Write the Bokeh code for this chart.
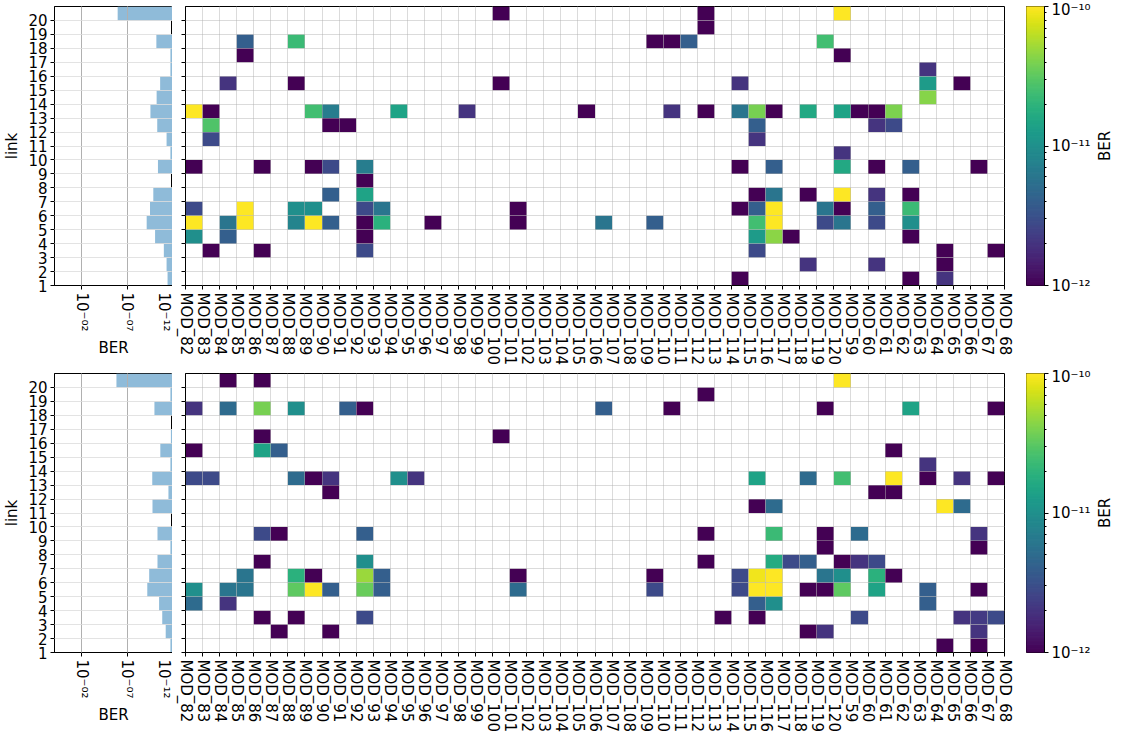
import math
from bokeh.plotting import figure
from bokeh.layouts import row, column
from bokeh.models import (Range1d, FixedTicker, LogColorMapper, ColumnDataSource,
                          CustomJSTickFormatter)
from bokeh.palettes import Viridis256
from bokeh.transform import transform
from bokeh.embed import file_html
from bokeh.resources import INLINE

# ---------------------------------------------------------------- data
MODULES = ["MOD_82", "MOD_83", "MOD_84", "MOD_85", "MOD_86", "MOD_87", "MOD_88",
           "MOD_89", "MOD_90", "MOD_91", "MOD_92", "MOD_93", "MOD_94", "MOD_95",
           "MOD_96", "MOD_97", "MOD_98", "MOD_99", "MOD_100", "MOD_101", "MOD_102",
           "MOD_103", "MOD_104", "MOD_105", "MOD_106", "MOD_107", "MOD_108",
           "MOD_109", "MOD_110", "MOD_111", "MOD_112", "MOD_113", "MOD_114",
           "MOD_115", "MOD_116", "MOD_117", "MOD_118", "MOD_119", "MOD_120",
           "MOD_59", "MOD_60", "MOD_61", "MOD_62", "MOD_63", "MOD_64", "MOD_65",
           "MOD_66", "MOD_67", "MOD_68"]
LINKS = [1, 2, 3, 4, 5, 6, 7, 8, 9, 10, 11, 12, 13, 14, 15, 16, 17, 18, 19, 20]

# top panel: cells (module, link, BER)
TOP_CELL_MOD = [
    "MOD_100", "MOD_112", "MOD_120",
    "MOD_112",
    "MOD_85", "MOD_88", "MOD_109", "MOD_110", "MOD_111", "MOD_119",
    "MOD_85", "MOD_120",
    "MOD_63",
    "MOD_84", "MOD_88", "MOD_100", "MOD_114", "MOD_63", "MOD_65",
    "MOD_63",
    "MOD_82", "MOD_83", "MOD_89", "MOD_90", "MOD_94", "MOD_98", "MOD_105", "MOD_110",
    "MOD_112", "MOD_114", "MOD_115", "MOD_116", "MOD_118", "MOD_120", "MOD_59",
    "MOD_60", "MOD_61",
    "MOD_83", "MOD_90", "MOD_91", "MOD_115", "MOD_60", "MOD_61",
    "MOD_83", "MOD_115",
    "MOD_120",
    "MOD_82", "MOD_86", "MOD_89", "MOD_90", "MOD_92", "MOD_114", "MOD_116", "MOD_120",
    "MOD_60", "MOD_62", "MOD_66",
    "MOD_92",
    "MOD_90", "MOD_92", "MOD_115", "MOD_116", "MOD_118", "MOD_120", "MOD_60", "MOD_62",
    "MOD_82", "MOD_85", "MOD_88", "MOD_89", "MOD_92", "MOD_93", "MOD_101", "MOD_114",
    "MOD_115", "MOD_116", "MOD_119", "MOD_120", "MOD_60", "MOD_62",
    "MOD_82", "MOD_84", "MOD_85", "MOD_88", "MOD_89", "MOD_90", "MOD_92", "MOD_93",
    "MOD_96", "MOD_101", "MOD_106", "MOD_109", "MOD_115", "MOD_116", "MOD_119",
    "MOD_120", "MOD_60", "MOD_62",
    "MOD_82", "MOD_84", "MOD_92", "MOD_115", "MOD_116", "MOD_117", "MOD_62",
    "MOD_83", "MOD_86", "MOD_92", "MOD_115", "MOD_64", "MOD_67",
    "MOD_118", "MOD_60", "MOD_64",
    "MOD_114", "MOD_62", "MOD_64",
]
TOP_CELL_LINK = ([20] * 3 + [19] * 1 + [18] * 6 + [17] * 2 + [16] * 1 + [15] * 6 +
                 [14] * 1 + [13] * 17 + [12] * 6 + [11] * 2 + [10] * 1 + [9] * 11 +
                 [8] * 1 + [7] * 8 + [6] * 14 + [5] * 18 + [4] * 7 + [3] * 6 +
                 [2] * 3 + [1] * 3)
TOP_CELL_BER = [
    1e-12, 1e-12, 1.1e-6,
    1e-12,
    4e-12, 2.3e-11, 1e-12, 1e-12, 4e-12, 2.5e-11,
    1e-12, 1e-12,
    2e-12,
    2e-12, 1e-12, 1e-12, 2e-12, 1.25e-11, 1e-12,
    4.3e-11,
    1e-10, 1e-12, 2.5e-11, 7e-12, 1.45e-11, 2e-12, 1e-12, 2e-12, 1e-12, 6e-12,
    3.9e-11, 1e-12, 1.6e-11, 1.45e-11, 1e-12, 1e-12, 4e-11,
    2.8e-11, 1e-12, 1e-12, 4e-12, 2e-12, 2.8e-12,
    2.8e-12, 2e-12,
    2e-12,
    1e-12, 1e-12, 1e-12, 2.8e-12, 7e-12, 1e-12, 4e-12, 1.6e-11, 1e-12, 4e-12, 1e-12,
    1e-12,
    4e-12, 1.45e-11, 1e-12, 6e-12, 1e-12, 1e-10, 2e-12, 1e-12,
    2.8e-12, 1e-10, 1e-11, 1e-11, 2.8e-12, 6e-12, 1e-12, 1e-12, 4e-12, 1e-10,
    6e-12, 1e-12, 4e-12, 2.3e-11,
    1e-10, 6e-12, 1e-10, 8e-12, 1e-10, 4e-12, 1e-12, 1.9e-11, 1e-12, 1e-12, 6e-12,
    4e-12, 2.5e-11, 1e-10, 2.8e-12, 6e-12, 2.8e-12, 1e-11,
    1e-11, 4e-12, 1e-12, 1.25e-11, 4.5e-11, 1e-12, 1e-12,
    1e-12, 1e-12, 2.8e-12, 2.8e-12, 1e-12, 1e-12,
    2e-12, 2e-12, 1e-12,
    1e-12, 1e-12, 2e-12,
]
# top panel: per-link BER (links 1..20)
TOP_LINK_BER = [3.5e-12, 4.5e-12, 9e-12, 8.3e-11, 7e-10, 3e-10, 1.3e-10, 1e-12, 4e-11,
                1.7e-12, 4.5e-12, 4.8e-11, 2.7e-10, 5.6e-11, 2.3e-11, 1.7e-12, 1.7e-12,
                6e-11, 1e-12, 1.1e-6]

# bottom panel
BOT_CELL_MOD = [
    "MOD_84", "MOD_86", "MOD_120",
    "MOD_112",
    "MOD_82", "MOD_84", "MOD_86", "MOD_88", "MOD_91", "MOD_92", "MOD_106", "MOD_110",
    "MOD_119", "MOD_62", "MOD_67",
    "MOD_86", "MOD_100",
    "MOD_82", "MOD_86", "MOD_87", "MOD_61",
    "MOD_63",
    "MOD_82", "MOD_83", "MOD_88", "MOD_89", "MOD_90", "MOD_94", "MOD_95", "MOD_115",
    "MOD_118", "MOD_120", "MOD_61", "MOD_63", "MOD_65", "MOD_67",
    "MOD_90", "MOD_60", "MOD_61",
    "MOD_115", "MOD_116", "MOD_64", "MOD_65",
    "MOD_86", "MOD_87", "MOD_92", "MOD_112", "MOD_116", "MOD_119", "MOD_59", "MOD_66",
    "MOD_119", "MOD_66",
    "MOD_86", "MOD_92", "MOD_112", "MOD_116", "MOD_117", "MOD_118", "MOD_120",
    "MOD_59", "MOD_60",
    "MOD_85", "MOD_88", "MOD_89", "MOD_92", "MOD_93", "MOD_101", "MOD_109", "MOD_114",
    "MOD_115", "MOD_116", "MOD_119", "MOD_120", "MOD_60", "MOD_61",
    "MOD_82", "MOD_84", "MOD_85", "MOD_88", "MOD_89", "MOD_90", "MOD_92", "MOD_93",
    "MOD_101", "MOD_109", "MOD_114", "MOD_115", "MOD_116", "MOD_118", "MOD_119",
    "MOD_120", "MOD_60", "MOD_63", "MOD_66",
    "MOD_82", "MOD_84", "MOD_115", "MOD_116", "MOD_63",
    "MOD_86", "MOD_88", "MOD_92", "MOD_113", "MOD_115", "MOD_59", "MOD_65", "MOD_66",
    "MOD_67",
    "MOD_87", "MOD_90", "MOD_118", "MOD_119", "MOD_66",
    "MOD_64", "MOD_66",
]
BOT_CELL_LINK = ([20] * 3 + [19] * 1 + [18] * 11 + [16] * 2 + [15] * 4 + [14] * 1 +
                 [13] * 14 + [12] * 3 + [11] * 4 + [9] * 8 + [8] * 2 + [7] * 9 +
                 [6] * 14 + [5] * 19 + [4] * 5 + [3] * 9 + [2] * 5 + [1] * 2)
BOT_CELL_BER = [
    1e-12, 1e-12, 1.5e-6,
    1e-12,
    2e-12, 5e-12, 3.9e-11, 1e-11, 4e-12, 1e-12, 4e-12, 1e-12, 1e-12, 1.45e-11, 1e-12,
    1e-12, 1e-12,
    1e-12, 1.45e-11, 4e-12, 1e-12,
    2e-12,
    2.8e-12, 2.8e-12, 5e-12, 1e-12, 2e-12, 1e-11, 2e-12, 1.45e-11, 5e-12, 2.5e-11,
    1e-10, 1e-12, 2e-12, 1e-12,
    1e-12, 1e-12, 1e-12,
    1e-12, 5e-12, 1e-10, 5e-12,
    2.8e-12, 1e-12, 4e-12, 1e-12, 2.3e-11, 1e-12, 5e-12, 2e-12,
    1e-12, 1e-12,
    1e-12, 1e-11, 1e-12, 1.7e-11, 2.8e-12, 4e-12, 1e-12, 2e-12, 2.8e-12,
    6e-12, 1.9e-11, 1e-12, 5e-11, 4e-12, 1e-12, 1e-12, 2.8e-12, 9e-11, 1e-10, 6e-12,
    1e-11, 1.9e-11, 1e-12,
    1e-11, 6e-12, 6e-12, 3.2e-11, 1e-10, 4e-12, 3.5e-11, 4e-12, 5e-12, 2.8e-12,
    2.8e-12, 1e-10, 1e-10, 1e-12, 1e-12, 3.2e-11, 1.45e-11, 4e-12, 1e-12,
    5e-12, 2e-12, 4e-12, 1e-11, 4e-12,
    1e-12, 1e-12, 2.8e-12, 1e-12, 1e-12, 2.8e-12, 2e-12, 2.2e-12, 2.8e-12,
    1e-12, 1e-12, 1e-12, 2e-12, 2e-12,
    1e-12, 1e-12,
]
BOT_LINK_BER = [1.7e-12, 5.6e-12, 1.35e-11, 3e-11, 6e-10, 3.7e-10, 4.5e-11, 1.7e-12,
                4.5e-11, 1e-12, 1.6e-10, 2.8e-12, 1.7e-10, 1.7e-12, 2.2e-11, 1.5e-12,
                1e-12, 9.8e-11, 1.7e-12, 1.5e-6]

HIST_TICKS = [1e-12, 1e-7, 1e-2]
CBAR_TICKS = [1e-12, 1e-11, 1e-10]
CBAR_MINOR = [2e-12, 3e-12, 4e-12, 5e-12, 6e-12, 7e-12, 8e-12, 9e-12,
              2e-11, 3e-11, 4e-11, 5e-11, 6e-11, 7e-11, 8e-11, 9e-11]

# ---------------------------------------------------------------- style
FONT = "DejaVu Sans"
FS = "15px"
H = 367
TOP_B = 6
BOT_B = 82
HIST_W = 172
HEAT_W = 854
BAR_W = 19
CBAR_RIGHT = 48
CBAR_W = BAR_W + CBAR_RIGHT
LBL_W = 22
BAR_COLOR = "#8fbbd9"


def sci_formatter():
    return CustomJSTickFormatter(code="""
        const e = Math.round(Math.log10(tick));
        const sup = {"-":"\u207b","0":"\u2070","1":"\u00b9","2":"\u00b2","3":"\u00b3",
                     "4":"\u2074","5":"\u2075","6":"\u2076","7":"\u2077","8":"\u2078","9":"\u2079"};
        const s = (e < 0 ? "-" : "") + String(Math.abs(e)).padStart(2, "0");
        return "10" + s.split("").map(c => sup[c]).join("");
    """)


def style_axis(ax):
    ax.axis_line_color = "black"
    ax.major_tick_line_color = "black"
    ax.minor_tick_line_color = "black"
    ax.major_tick_out = 4
    ax.major_tick_in = 0
    ax.minor_tick_out = 2
    ax.minor_tick_in = 0
    ax.major_label_standoff = 3
    ax.major_label_text_font = FONT
    ax.major_label_text_font_size = FS
    ax.major_label_text_color = "black"
    ax.axis_label_text_font = FONT
    ax.axis_label_text_font_size = FS
    ax.axis_label_text_font_style = "normal"
    ax.axis_label_text_color = "black"
    ax.axis_label_standoff = 4


mapper = LogColorMapper(palette=Viridis256, low=1e-12, high=1e-10)
mod_index = {m: i for i, m in enumerate(MODULES)}


def make_hist(vals):
    h = figure(width=HIST_W, height=H, x_axis_type="log",
               x_range=Range1d(10, 1e-12), y_range=Range1d(1, 21),
               output_backend="svg", toolbar_location=None,
               min_border_left=45, min_border_right=0,
               min_border_top=TOP_B, min_border_bottom=BOT_B)
    h.quad(left=vals, right=[1e-14] * len(LINKS), bottom=LINKS,
           top=[l + 1 for l in LINKS], fill_color=BAR_COLOR, line_color=None)
    h.xaxis.ticker = FixedTicker(ticks=HIST_TICKS, minor_ticks=[])
    h.xaxis.formatter = sci_formatter()
    h.xaxis.major_label_orientation = "vertical"
    h.xaxis.axis_label = "BER"
    h.yaxis.ticker = FixedTicker(ticks=LINKS, minor_ticks=[])
    h.yaxis.axis_label = "link"
    for ax in h.axis:
        style_axis(ax)
    h.xgrid.ticker = FixedTicker(ticks=HIST_TICKS)
    h.ygrid.ticker = FixedTicker(ticks=LINKS)
    h.xgrid.grid_line_color = "#b0b0b0"
    h.ygrid.grid_line_color = "#dcdcdc"
    h.xgrid.level = "guide"
    h.ygrid.level = "guide"
    h.ygrid.grid_line_alpha = 0.8
    h.outline_line_color = "black"
    h.outline_line_alpha = 1
    return h


def make_heat(mods, links, bers):
    p = figure(width=HEAT_W, height=H, x_range=Range1d(0, len(MODULES) - 1),
               y_range=Range1d(1, 21), output_backend="svg", toolbar_location=None,
               min_border_left=13, min_border_right=22,
               min_border_top=TOP_B, min_border_bottom=BOT_B)
    idx = [mod_index[m] for m in mods]
    src = ColumnDataSource(dict(left=idx, right=[i + 1 for i in idx],
                                bottom=links, top=[l + 1 for l in links], ber=bers))
    p.quad(left="left", right="right", bottom="bottom", top="top", source=src,
           fill_color=transform("ber", mapper), line_color=None)
    ticks = list(range(len(MODULES)))
    p.xaxis.ticker = FixedTicker(ticks=ticks, minor_ticks=[])
    p.xaxis.major_label_overrides = {i: m for i, m in enumerate(MODULES)}
    p.xaxis.major_label_orientation = "vertical"
    p.yaxis.ticker = FixedTicker(ticks=LINKS, minor_ticks=[])
    for ax in p.axis:
        style_axis(ax)
    p.yaxis.major_label_overrides = {l: "" for l in LINKS}
    p.yaxis.major_label_standoff = 0
    p.xgrid.ticker = FixedTicker(ticks=ticks)
    p.ygrid.ticker = FixedTicker(ticks=LINKS)
    p.grid.grid_line_color = "#b0b0b0"
    p.grid.grid_line_alpha = 0.45
    p.grid.level = "guide"
    p.outline_line_color = "black"
    p.outline_line_alpha = 1
    return p


def make_cbar():
    c = figure(width=CBAR_W, height=H, x_range=Range1d(0, 1), y_axis_type="log",
               y_range=Range1d(1e-12, 1e-10), y_axis_location="right",
               output_backend="svg", toolbar_location=None,
               min_border_left=0, min_border_right=CBAR_RIGHT,
               min_border_top=TOP_B, min_border_bottom=BOT_B)
    n = len(Viridis256)
    edges = [10 ** (-12 + 2 * i / n) for i in range(n + 1)]
    c.quad(left=0, right=1, bottom=edges[:-1], top=edges[1:],
           fill_color=list(Viridis256), line_color=list(Viridis256), line_width=1)
    c.xaxis.visible = False
    c.grid.visible = False
    c.yaxis.ticker = FixedTicker(ticks=CBAR_TICKS, minor_ticks=CBAR_MINOR)
    c.yaxis.formatter = sci_formatter()
    for ax in c.yaxis:
        style_axis(ax)
    c.outline_line_color = "black"
    c.outline_line_alpha = 1
    return c


def make_cbar_label():
    # narrow strip carrying the colour-bar label "BER", reading upwards
    f = figure(width=LBL_W, height=H, x_range=Range1d(0, 1), y_range=Range1d(0, 1),
               output_backend="svg", toolbar_location=None,
               min_border_left=LBL_W - 2, min_border_right=0,
               min_border_top=TOP_B, min_border_bottom=BOT_B)
    f.xaxis.visible = False
    f.grid.visible = False
    f.outline_line_color = None
    f.yaxis.ticker = FixedTicker(ticks=[], minor_ticks=[])
    f.yaxis.axis_label = "BER"
    for ax in f.yaxis:
        style_axis(ax)
        ax.axis_line_color = None
        ax.major_tick_line_color = None
        ax.minor_tick_line_color = None
        ax.axis_label_standoff = 2
    return f


top_row = row(make_hist(TOP_LINK_BER), make_heat(TOP_CELL_MOD, TOP_CELL_LINK, TOP_CELL_BER),
              make_cbar(), make_cbar_label())
bot_row = row(make_hist(BOT_LINK_BER), make_heat(BOT_CELL_MOD, BOT_CELL_LINK, BOT_CELL_BER),
              make_cbar(), make_cbar_label())
layout = column(top_row, bot_row)

open("out.html", "w").write(file_html(layout, INLINE))
